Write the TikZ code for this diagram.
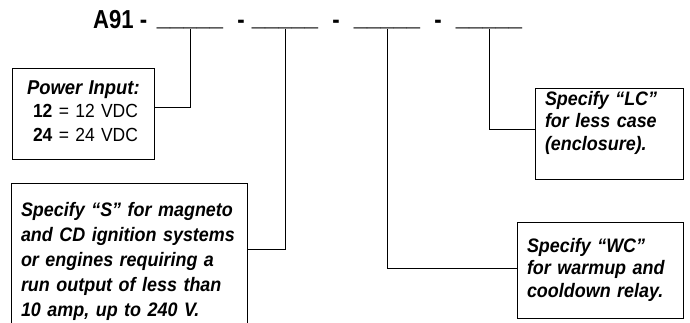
\documentclass[tikz,border=0pt]{standalone}
\usepackage{fontspec}
\setmainfont{Liberation Sans}
\newfontfamily\headfont[FakeStretch=0.85]{Liberation Sans}
\newfontfamily\notefont[FakeStretch=0.92]{Liberation Sans}

\begin{document}
\begin{tikzpicture}[x=1pt,y=-1pt,
    head/.style={anchor=base,inner sep=0pt,font=\headfont\bfseries\fontsize{26}{26}\selectfont},
    blank/.style={head,yshift=2.5pt,font=\headfont\bfseries\fontsize{28}{28}\selectfont},
    note/.style={draw,line width=1pt,anchor=north west,align=left,inner xsep=10pt,
      inner ysep=0pt,outer sep=0pt,font=\notefont\bfseries\itshape\fontsize{19.5}{22.8}\selectfont},
    link/.style={line width=1pt}]
  \useasboundingbox (0,0) rectangle (690,322);
  \clip (0,0) rectangle (690,322);

  % part number and its blanks
  \path (93,28)
    node (code) [head,anchor=base west] {A91 -} ++(97,0)
    node (b1) [blank] {\_\_\_\_\_} ++(51,0)
    node (d1) [head] {-} ++(44,0)
    node (b2) [blank] {\_\_\_\_\_} ++(51,0)
    node (d2) [head] {-} ++(51,0)
    node (b3) [blank] {\_\_\_\_\_} ++(51,0)
    node (d3) [head] {-} ++(51,0)
    node (b4) [blank] {\_\_\_\_\_};

  % option boxes
  \node (pwr) [note,inner xsep=12pt,text width=118pt,text height=26pt,text depth=65pt,
    font=\notefont\fontsize{19}{23.7}\selectfont] at (12,68)
    {\hspace*{3pt}{\fontsize{20}{23.7}\selectfont\bfseries\itshape Power Input:}\\
     \hspace*{9pt}\textbf{12} = 12 VDC\\
     \hspace*{9pt}\textbf{24} = 24 VDC};
  \node (mag) [note,text width=216pt,text height=33pt,text depth=124pt,
    font=\notefont\bfseries\itshape\fontsize{19.5}{25.2}\selectfont] at (11,183)
    {Specify “S” for magneto\\ and CD ignition systems\\ or engines requiring a\\
     run output of less than\\ 10 amp, up to 240 V.};
  \node (lc) [note,text width=128pt,text height=17pt,text depth=74pt] at (535,88)
    {Specify “LC”\\ for less case\\ (enclosure).};
  \node (wc) [note,text width=146pt,text height=30pt,text depth=66pt] at (517,222)
    {Specify “WC”\\ for warmup and\\ cooldown relay.};

  % leaders
  \path (node cs:name=b1,anchor=base) +(0,3) coordinate (b1o);
  \path (node cs:name=pwr,anchor=north east) +(0,39) coordinate (pwri);
  \draw[link] (b1o) |- (pwri);
  \path (node cs:name=b2,anchor=base) +(0,3) coordinate (b2o);
  \path (node cs:name=mag,anchor=north east) +(0,66) coordinate (magi);
  \draw[link] (b2o) |- (magi);
  \path (node cs:name=b3,anchor=base) +(0,3) coordinate (b3o);
  \path (node cs:name=wc,anchor=north west) +(0,46) coordinate (wci);
  \draw[link] (b3o) |- (wci);
  \path (node cs:name=b4,anchor=base) +(0,3) coordinate (b4o);
  \path (node cs:name=lc,anchor=north west) +(0,41) coordinate (lci);
  \draw[link] (b4o) |- (lci);
\end{tikzpicture}
\end{document}
